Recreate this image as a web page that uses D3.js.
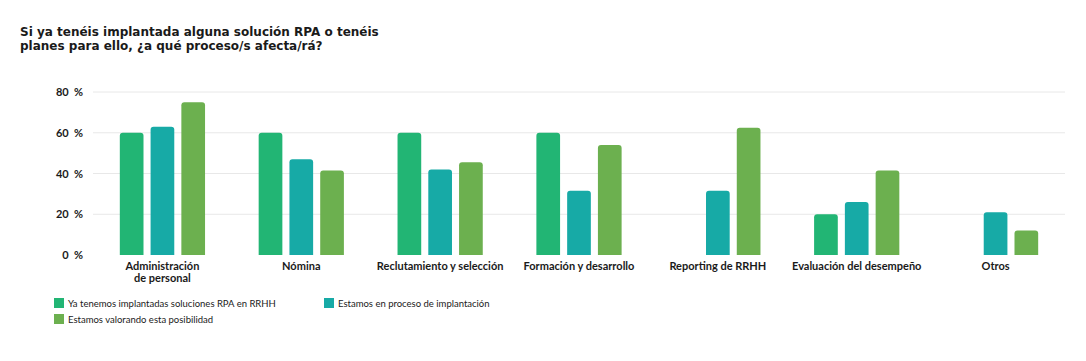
<!DOCTYPE html>
<html>
<head>
<meta charset="utf-8">
<script src="https://cdn.jsdelivr.net/npm/d3@7"></script>
<style>
  body { margin: 0; background: #fff; font-family: "Lato", "DejaVu Sans", sans-serif; }
  .tick text { font-family: "Lato", sans-serif; }
</style>
</head>
<body>
<div class="chart"></div>
<script>
// data
const categories = ['Administración|de personal', 'Nómina', 'Reclutamiento y selección',
  'Formación y desarrollo', 'Reporting de RRHH', 'Evaluación del desempeño', 'Otros'];
const seriesNames = ['Ya tenemos implantadas soluciones RPA en RRHH',
  'Estamos en proceso de implantación', 'Estamos valorando esta posibilidad'];
const implantadas = [60, 60, 60, 60, null, 20, null];
const enProceso = [63, 47, 42, 31.5, 31.5, 26, 21];
const valorando = [75, 41.5, 45.5, 54, 62.5, 41.5, 12];
const yTicks = [0, 20, 40, 60, 80];
const colors = ['#22b574', '#17aaa6', '#6cb04f'];

const width = 1086, height = 361;
const margin = {top: 92, right: 21, bottom: 106, left: 93};

const svg = d3.select('.chart').append('svg')
  .attr('width', width)
  .attr('height', height);

// title
const title = svg.append('text')
  .attr('x', 20)
  .attr('y', 36)
  .style('font-family', '"DejaVu Sans", sans-serif')
  .style('font-size', '12px')
  .style('font-weight', 'bold')
  .attr('fill', '#1a1a1a');
title.append('tspan').attr('x', 20).text('Si ya tenéis implantada alguna solución RPA o tenéis');
title.append('tspan').attr('x', 20).attr('dy', 13.5).text('planes para ello, ¿a qué proceso/s afecta/rá?');

const xScale = d3.scaleBand()
  .domain(categories)
  .range([margin.left, width - margin.right]);

const inner = d3.scaleBand()
  .domain(d3.range(3))
  .range([xScale.bandwidth() / 2 - 46, xScale.bandwidth() / 2 + 46])
  .paddingInner(0.23)
  .paddingOuter(0.11);

const yScale = d3.scaleLinear()
  .domain([0, 80])
  .range([height - margin.bottom, margin.top]);

// grid
svg.append('g')
  .selectAll('line')
  .data(yTicks.slice(1))
  .enter()
  .append('line')
    .attr('x1', margin.left)
    .attr('x2', width - margin.right)
    .attr('y1', d => yScale(d))
    .attr('y2', d => yScale(d))
    .attr('stroke', '#e8e8e8')
    .attr('stroke-width', 1);

// y axis labels
const yAxis = d3.axisLeft(yScale)
  .tickValues(yTicks)
  .tickSize(0)
  .tickPadding(10)
  .tickFormat(d => d + '  %');

svg.append('g')
  .attr('class', 'axis y-axis')
  .attr('transform', `translate(${margin.left}, 0)`)
  .call(yAxis)
  .call(g => g.select('.domain').remove())
  .selectAll('text')
    .style('font-size', '11px')
    .style('font-weight', 'bold')
    .style('white-space', 'pre')
    .attr('fill', '#1a1a1a');

// bars
const allSeries = [implantadas, enProceso, valorando];
const rows = [];
categories.forEach((c, i) => {
  allSeries.forEach((s, j) => {
    if (s[i] != null) rows.push({cat: c, k: j, value: s[i]});
  });
});

function topRounded(x, y, w, h, r) {
  r = Math.min(r, h);
  return `M${x},${y + h}V${y + r}Q${x},${y} ${x + r},${y}H${x + w - r}Q${x + w},${y} ${x + w},${y + r}V${y + h}Z`;
}

svg.append('g')
  .selectAll('path')
  .data(rows)
  .enter()
  .append('path')
    .attr('fill', d => colors[d.k])
    .attr('d', d => {
      const x = xScale(d.cat) + inner(d.k);
      const y = yScale(d.value);
      return topRounded(x, y, inner.bandwidth(), yScale(0) - y, 3);
    });

// category labels
const xLabels = svg.append('g')
  .selectAll('text')
  .data(categories)
  .enter()
  .append('text')
    .attr('text-anchor', 'middle')
    .attr('x', d => xScale(d) + xScale.bandwidth() / 2)
    .attr('y', 270)
    .style('font-size', '11px')
    .style('font-weight', 'bold')
    .attr('fill', '#1a1a1a');

xLabels.each(function(d) {
  const parts = d.split('|');
  const t = d3.select(this);
  parts.forEach((p, i) => {
    t.append('tspan')
      .attr('x', xScale(d) + xScale.bandwidth() / 2)
      .attr('dy', i === 0 ? 0 : 12)
      .text(p);
  });
});

// legend
const legendPos = [[54, 298], [324, 298], [54, 314]];
const legend = svg.selectAll('.legend')
  .data(seriesNames)
  .enter()
  .append('g')
  .attr('class', 'legend')
  .attr('transform', (d, i) => 'translate(' + legendPos[i][0] + ',' + legendPos[i][1] + ')');

legend.append('rect')
  .attr('width', 10)
  .attr('height', 10)
  .style('fill', (d, i) => colors[i]);

legend.append('text')
  .attr('x', 14)
  .attr('y', 9)
  .style('font-size', '9.5px')
  .attr('fill', '#1a1a1a')
  .text(d => d);
</script>
</body>
</html>
